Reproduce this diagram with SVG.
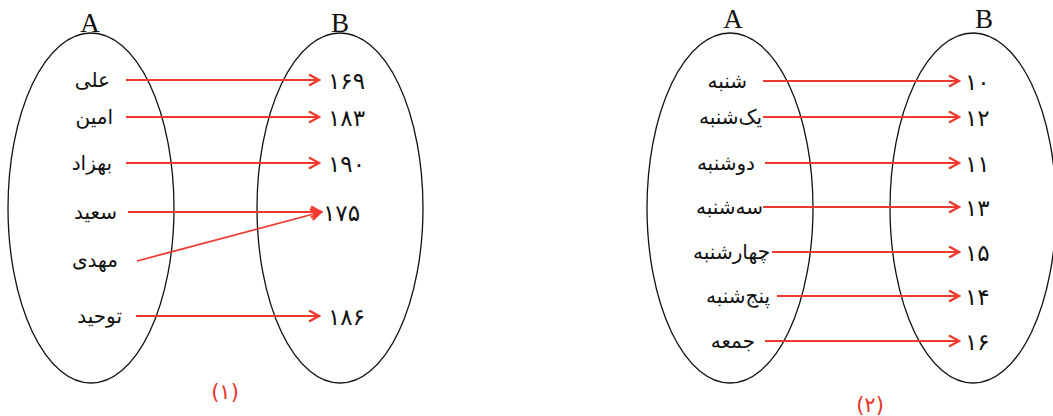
<svg xmlns="http://www.w3.org/2000/svg" width="1053" height="416" viewBox="0 0 1053 416">
<style>
.set{fill:none;stroke:#111;stroke-width:1.3}
.lab{font-family:"Liberation Serif",serif;font-size:27px;fill:#111;text-anchor:middle}
.nm{font-family:"DejaVu Sans",sans-serif;font-size:20px;fill:#111;text-anchor:end}
.num{font-family:"DejaVu Sans",sans-serif;font-size:23px;fill:#111;text-anchor:start;letter-spacing:3px}
.cap{font-family:"DejaVu Sans",sans-serif;font-size:21px;fill:#e8322b;text-anchor:middle;letter-spacing:2px}
.ar{fill:none;stroke:#ee3a2e;stroke-width:1.8;marker-end:url(#arr)}
</style>
<defs>
<marker id="arr" viewBox="0 0 14 14" refX="12" refY="7" markerWidth="14" markerHeight="14" markerUnits="userSpaceOnUse" orient="auto">
<path d="M2,1.5 L12,7 L2,12.5" fill="none" stroke="#ee3a2e" stroke-width="2.4"/>
</marker>
</defs>
<rect width="1053" height="416" fill="#fff"/>

<g id="diagram1-setA">
<ellipse class="set" cx="91" cy="208" rx="83" ry="175"/>
<text class="lab" x="90" y="32">A</text>
<text class="nm" x="110" y="87">علی</text>
<text class="nm" x="113" y="124">امین</text>
<text class="nm" x="112" y="170">بهزاد</text>
<text class="nm" x="117" y="219">سعید</text>
<text class="nm" x="118" y="267">مهدی</text>
<text class="nm" x="122" y="323">توحید</text>
</g>
<g id="diagram1-setB">
<ellipse class="set" cx="340" cy="208" rx="83" ry="175"/>
<text class="lab" x="340" y="32">B</text>
<text class="num" x="328" y="89">۱۶۹</text>
<text class="num" x="328" y="126">۱۸۳</text>
<text class="num" x="328" y="172">۱۹۰</text>
<text class="num" x="323" y="221">۱۷۵</text>
<text class="num" x="328" y="325">۱۸۶</text>
</g>
<g id="caption1"><text class="cap" x="225" y="399">(۱)</text></g>

<g id="diagram2-setA">
<ellipse class="set" cx="730" cy="208" rx="83" ry="175"/>
<text class="lab" x="733" y="28">A</text>
<text class="nm" x="747" y="88">شنبه</text>
<text class="nm" x="762" y="124">یک‌شنبه</text>
<text class="nm" x="755" y="170">دوشنبه</text>
<text class="nm" x="763" y="214">سه‌شنبه</text>
<text class="nm" x="770" y="259">چهارشنبه</text>
<text class="nm" x="770" y="303">پنج‌شنبه</text>
<text class="nm" x="755" y="348">جمعه</text>
</g>
<g id="diagram2-setB">
<ellipse class="set" cx="973" cy="208" rx="83" ry="175"/>
<text class="lab" x="984" y="28">B</text>
<text class="num" x="965" y="90">۱۰</text>
<text class="num" x="965" y="126">۱۲</text>
<text class="num" x="965" y="172">۱۱</text>
<text class="num" x="965" y="216">۱۳</text>
<text class="num" x="965" y="261">۱۵</text>
<text class="num" x="965" y="305">۱۴</text>
<text class="num" x="965" y="350">۱۶</text>
</g>
<g id="caption2"><text class="cap" x="870" y="412">(۲)</text></g>

<g id="connectors">
<line class="ar" x1="126" y1="80" x2="319" y2="80"/>
<line class="ar" x1="126" y1="117" x2="319" y2="117"/>
<line class="ar" x1="126" y1="163" x2="319" y2="163"/>
<line class="ar" x1="128" y1="212" x2="321" y2="212"/>
<line class="ar" x1="137" y1="261" x2="321" y2="212"/>
<line class="ar" x1="136" y1="316" x2="319" y2="316"/>
<line class="ar" x1="763" y1="81" x2="959" y2="81"/>
<line class="ar" x1="763" y1="117" x2="959" y2="117"/>
<line class="ar" x1="765" y1="163" x2="959" y2="163"/>
<line class="ar" x1="763" y1="207" x2="959" y2="207"/>
<line class="ar" x1="772" y1="252" x2="959" y2="252"/>
<line class="ar" x1="777" y1="296" x2="959" y2="296"/>
<line class="ar" x1="765" y1="341" x2="959" y2="341"/>
</g>
</svg>
